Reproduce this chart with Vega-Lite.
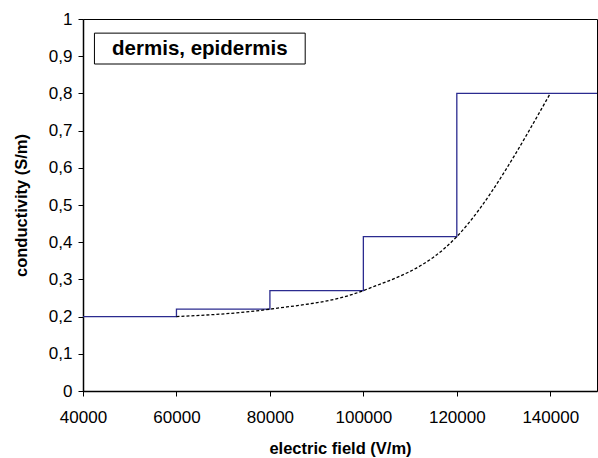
{
  "$schema": "https://vega.github.io/schema/vega-lite/v6.json",
  "width": 514,
  "height": 372,
  "autosize": "none",
  "padding": {"left": 83, "top": 19, "right": 1, "bottom": 67},
  "background": "white",
  "config": {
    "font": "Liberation Sans",
    "view": {"stroke": "black", "strokeWidth": 1},
    "axis": {
      "grid": false,
      "domainColor": "black",
      "domainWidth": 1.5,
      "tickColor": "black",
      "tickSize": 5,
      "labelFont": "Liberation Sans",
      "labelFontSize": 17,
      "labelColor": "black",
      "labelOverlap": false,
      "labelFlush": false,
      "titleFont": "Liberation Sans",
      "titleFontSize": 16.5,
      "titleFontWeight": "bold",
      "titleColor": "black"
    }
  },
  "datasets": {
    "steps": [
      {"field": 40000, "conductivity": 0.2},
      {"field": 60000, "conductivity": 0.22},
      {"field": 80000, "conductivity": 0.27},
      {"field": 100000, "conductivity": 0.415},
      {"field": 120000, "conductivity": 0.8},
      {"field": 150000, "conductivity": 0.8}
    ],
    "fit": [
      {"field": 60000, "conductivity": 0.2},
      {"field": 80000, "conductivity": 0.22},
      {"field": 100000, "conductivity": 0.27},
      {"field": 120000, "conductivity": 0.415},
      {"field": 140000, "conductivity": 0.8}
    ]
  },
  "layer": [
    {
      "data": {"name": "steps"},
      "mark": {"type": "line", "interpolate": "step-after", "color": "#2b2b8f", "strokeWidth": 1.3, "clip": true},
      "encoding": {
        "x": {
          "field": "field", "type": "quantitative",
          "scale": {"domain": [40000, 150000], "nice": false, "zero": false},
          "axis": {"title": "electric field (V/m)", "values": [40000, 60000, 80000, 100000, 120000, 140000], "format": "d", "labelPadding": 13, "titlePadding": 15, "labelOverlap": false, "labelFlush": false}
        },
        "y": {
          "field": "conductivity", "type": "quantitative",
          "scale": {"domain": [0, 1], "nice": false},
          "axis": {
            "title": "conductivity (S/m)",
            "values": [0, 0.1, 0.2, 0.3, 0.4, 0.5, 0.6, 0.7, 0.8, 0.9, 1],
            "labelExpr": "datum.value == 0 ? '0' : datum.value == 1 ? '1' : replace(format(datum.value, '.1f'), '.', ',')",
            "labelOverlap": false,
            "labelFlush": false,
            "labelPadding": 6,
            "titlePadding": 19
          }
        }
      }
    },
    {
      "data": {"name": "fit"},
      "mark": {"type": "line", "interpolate": "monotone", "color": "black", "strokeWidth": 1.3, "strokeDash": [3, 2]},
      "encoding": {
        "x": {
          "field": "field", "type": "quantitative",
          "axis": {"title": "electric field (V/m)", "values": [40000, 60000, 80000, 100000, 120000, 140000], "format": "d", "labelPadding": 13, "titlePadding": 15, "labelOverlap": false, "labelFlush": false}
        },
        "y": {
          "field": "conductivity", "type": "quantitative",
          "axis": {
            "title": "conductivity (S/m)",
            "values": [0, 0.1, 0.2, 0.3, 0.4, 0.5, 0.6, 0.7, 0.8, 0.9, 1],
            "labelExpr": "datum.value == 0 ? '0' : datum.value == 1 ? '1' : replace(format(datum.value, '.1f'), '.', ',')",
            "labelOverlap": false,
            "labelFlush": false,
            "labelPadding": 6,
            "titlePadding": 19
          }
        }
      }
    },
    {
      "data": {"values": [{"label": "dermis, epidermis"}]},
      "mark": {"type": "rect", "fill": "white", "stroke": "black", "strokeWidth": 1},
      "encoding": {
        "x": {
          "datum": 42450, "type": "quantitative",
          "axis": {"title": "electric field (V/m)", "values": [40000, 60000, 80000, 100000, 120000, 140000], "format": "d", "labelPadding": 13, "titlePadding": 15, "labelOverlap": false, "labelFlush": false}
        },
        "x2": {"datum": 87550},
        "y": {
          "datum": 0.962, "type": "quantitative",
          "axis": {
            "title": "conductivity (S/m)",
            "values": [0, 0.1, 0.2, 0.3, 0.4, 0.5, 0.6, 0.7, 0.8, 0.9, 1],
            "labelExpr": "datum.value == 0 ? '0' : datum.value == 1 ? '1' : replace(format(datum.value, '.1f'), '.', ',')",
            "labelOverlap": false,
            "labelFlush": false,
            "labelPadding": 6,
            "titlePadding": 19
          }
        },
        "y2": {"datum": 0.879}
      }
    },
    {
      "data": {"values": [{"label": "dermis, epidermis"}]},
      "mark": {"type": "text", "font": "Liberation Sans", "fontSize": 20.5, "fontWeight": "bold", "color": "black", "align": "center", "baseline": "middle"},
      "encoding": {
        "x": {
          "datum": 65000, "type": "quantitative",
          "axis": {"title": "electric field (V/m)", "values": [40000, 60000, 80000, 100000, 120000, 140000], "format": "d", "labelPadding": 13, "titlePadding": 15, "labelOverlap": false, "labelFlush": false}
        },
        "y": {
          "datum": 0.92, "type": "quantitative",
          "axis": {
            "title": "conductivity (S/m)",
            "values": [0, 0.1, 0.2, 0.3, 0.4, 0.5, 0.6, 0.7, 0.8, 0.9, 1],
            "labelExpr": "datum.value == 0 ? '0' : datum.value == 1 ? '1' : replace(format(datum.value, '.1f'), '.', ',')",
            "labelOverlap": false,
            "labelFlush": false,
            "labelPadding": 6,
            "titlePadding": 19
          }
        },
        "text": {"field": "label"}
      }
    }
  ]
}
